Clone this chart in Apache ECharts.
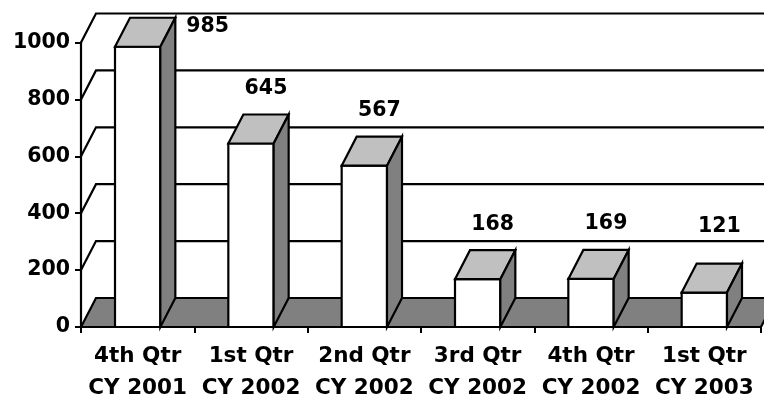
<!DOCTYPE html>
<html>
<head>
<meta charset="utf-8">
<script src="https://cdn.jsdelivr.net/npm/echarts@6/dist/echarts.min.js"></script>
<style>
  html, body { margin: 0; padding: 0; background: #ffffff; }
  #chart { width: 764px; height: 401px; }
</style>
</head>
<body>
<div id="chart"></div>
<script>
// ---- Data ----
const categories = ['4th Qtr\nCY 2001', '1st Qtr\nCY 2002', '2nd Qtr\nCY 2002', '3rd Qtr\nCY 2002', '4th Qtr\nCY 2002', '1st Qtr\nCY 2003'];
const values = [985, 645, 567, 168, 169, 121];
const yTicks = [0, 200, 400, 600, 800, 1000];

// ---- Style constants (3D depth offset) ----
const DX = 15, DY = -29;
const FONT = '"DejaVu Sans", sans-serif';
const LINE = { stroke: '#000', lineWidth: 2.2, lineJoin: 'miter' };

const chart = echarts.init(document.getElementById('chart'), null, { renderer: 'canvas' });

function wallItem(params, api) {
  const v = api.value(0);
  const cs = params.coordSys;
  const x0 = cs.x, x1 = cs.x + cs.width;
  const y = api.coord([0, v])[1];
  if (v === 0) {
    return {
      type: 'polygon',
      shape: { points: [[x0, y], [x0 + DX, y + DY], [x1 + DX, y + DY], [x1, y]] },
      style: Object.assign({ fill: '#808080' }, LINE)
    };
  }
  return {
    type: 'polyline',
    shape: { points: [[x0, y], [x0 + DX, y + DY], [x1 + DX, y + DY]] },
    style: Object.assign({ fill: null }, LINE)
  };
}

function barItem(params, api) {
  const idx = api.value(0);
  const val = api.value(1);
  const top = api.coord([idx, val]);
  const base = api.coord([idx, 0]);
  const w = api.size([1, 0])[0] * 0.4;
  const xl = top[0] - w / 2, xr = top[0] + w / 2;
  const yt = top[1], yb = base[1];
  const backTop = yt + DY;
  const lowest = api.coord([idx, yTicks[1]])[1] + DY - 14;
  let label;
  if (backTop - 26 < 20) {
    label = { x: xr + DX + 11, y: backTop + 9, align: 'left' };
  } else {
    label = { x: top[0] + DX, y: Math.min(backTop - 26, lowest), align: 'center' };
  }
  return {
    type: 'group',
    children: [
      { type: 'polygon', shape: { points: [[xl, yb], [xl, yt], [xr, yt], [xr, yb]] },
        style: Object.assign({ fill: '#ffffff' }, LINE) },
      { type: 'polygon', shape: { points: [[xl, yt], [xl + DX, yt + DY], [xr + DX, yt + DY], [xr, yt]] },
        style: Object.assign({ fill: '#C0C0C0' }, LINE) },
      { type: 'polygon', shape: { points: [[xr, yt], [xr + DX, yt + DY], [xr + DX, yb + DY], [xr, yb]] },
        style: Object.assign({ fill: '#808080' }, LINE) },
      { type: 'text', x: label.x, y: label.y,
        style: { text: String(val), fill: '#000', font: 'bold 20.5px ' + FONT,
                 align: label.align, verticalAlign: 'middle' } }
    ]
  };
}

chart.setOption({
  animation: false,
  backgroundColor: '#ffffff',
  grid: { left: 81, right: 3, top: 42.5, bottom: 74, containLabel: false, outerBoundsMode: 'none' },
  xAxis: {
    type: 'category',
    data: categories,
    boundaryGap: true,
    axisLine: { show: true, lineStyle: { color: '#000', width: 2.2 } },
    axisTick: { show: true, length: 6, lineStyle: { color: '#000', width: 2 } },
    axisLabel: { color: '#000', fontFamily: FONT, fontWeight: 'bold', fontSize: 21.5,
                 lineHeight: 31.5, margin: 14, interval: 0 },
    splitLine: { show: false }
  },
  yAxis: {
    type: 'value',
    min: 0, max: 1000, interval: 200,
    axisLine: { show: true, lineStyle: { color: '#000', width: 2.2 } },
    axisTick: { show: true, length: 6, lineStyle: { color: '#000', width: 2 } },
    axisLabel: { color: '#000', fontFamily: FONT, fontWeight: 'bold', fontSize: 20.5, margin: 11,
                 formatter: v => String(v) },
    splitLine: { show: false }
  },
  series: [
    {
      type: 'custom', name: 'walls', z: 1, silent: true, clip: false,
      renderItem: wallItem,
      data: yTicks.map(v => [v]),
      encode: { y: 0 }
    },
    {
      type: 'custom', name: 'bars', z: 3, silent: true, clip: false,
      renderItem: barItem,
      data: values.map((v, i) => [i, v]),
      encode: { x: 0, y: 1 }
    }
  ]
});
</script>
</body>
</html>
